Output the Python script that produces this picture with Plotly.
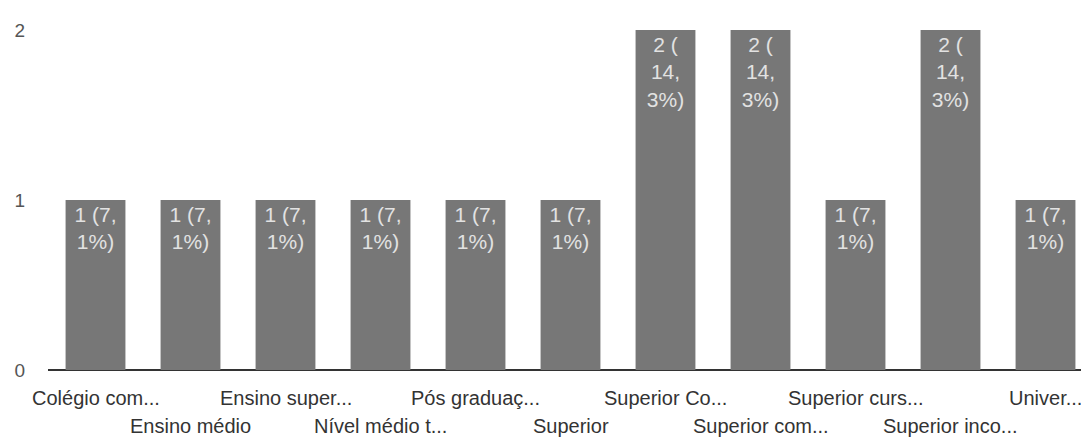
import plotly.graph_objects as go

categories = ["Colégio com...", "Ensino médio", "Ensino super...", "Nível médio t...",
              "Pós graduaç...", "Superior", "Superior Co...", "Superior com...",
              "Superior curs...", "Superior inco...", "Univer..."]
counts = [1, 1, 1, 1, 1, 1, 2, 2, 1, 2, 1]
bar_texts = ["1 (7,<br>1%)"] * 6 + ["2 (<br>14,<br>3%)", "2 (<br>14,<br>3%)",
             "1 (7,<br>1%)", "2 (<br>14,<br>3%)", "1 (7,<br>1%)"]
y_ticks = [0, 1, 2]

FONT = "Liberation Sans, Arial, sans-serif"

fig = go.Figure(go.Bar(
    x=categories, y=counts, text=bar_texts,
    textposition="inside", insidetextanchor="end", textangle=0,
    textfont=dict(color="#e2e2e2", size=21, family=FONT),
    marker=dict(color="#777777", line=dict(width=0)),
    hoverinfo="skip",
))

for i, c in enumerate(categories):
    fig.add_annotation(x=c, y=0, xref="x", yref="paper", text=c, showarrow=False,
                       yanchor="top", yshift=-15 if i % 2 == 0 else -43,
                       font=dict(size=20, color="#333333", family=FONT))

fig.update_layout(
    width=1089, height=446,
    margin=dict(l=40, r=4, t=22, b=84),
    paper_bgcolor="white", plot_bgcolor="white",
    bargap=0.37, showlegend=False,
    uniformtext=dict(minsize=21, mode="show"),
    font=dict(family=FONT, size=20, color="#444444"),
)
fig.update_xaxes(showticklabels=False, showgrid=False, zeroline=False,
                 showline=False, ticks="", automargin=False,
                 range=[-0.5, len(categories) - 0.5])
fig.update_yaxes(range=[0, 2], tickvals=y_ticks, showgrid=False, zeroline=True,
                 zerolinecolor="#333333", zerolinewidth=2, ticklabelstandoff=22,
                 automargin=False,
                 tickfont=dict(size=19, color="#555555", family=FONT))

fig.write_html("out.html")
